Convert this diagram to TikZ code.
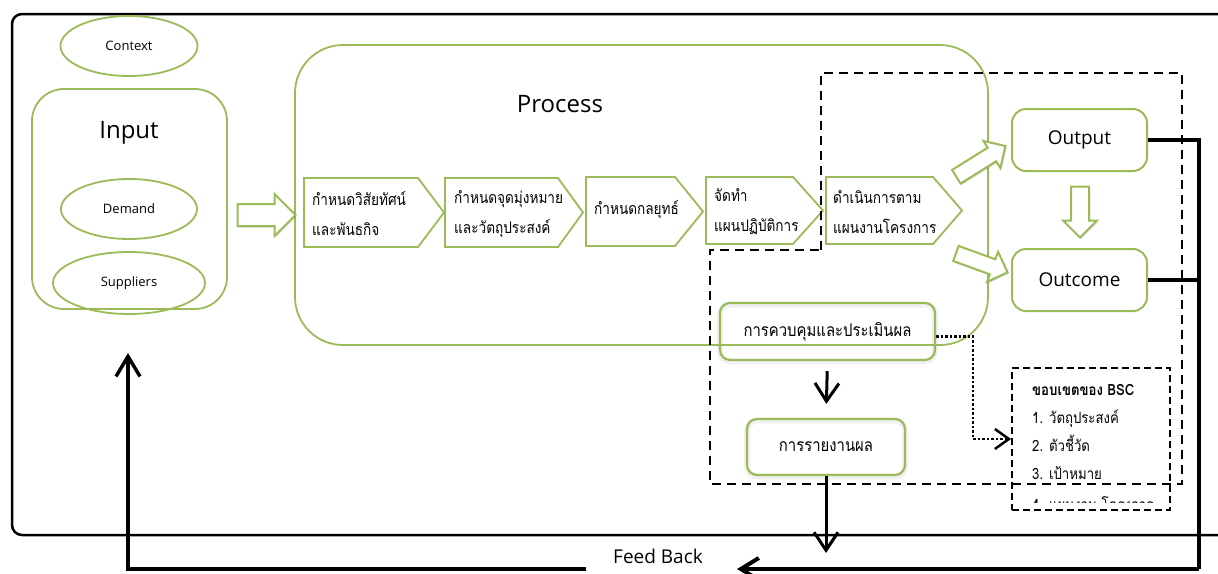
\documentclass[tikz,border=0pt]{standalone}
\usepackage{fontspec}
\setmainfont{Open Sans}
\newfontfamily\thai[Script=Thai,FakeStretch=0.85]{Loma}
\usetikzlibrary{arrows.meta,shapes.geometric,shapes.arrows,shadows}
\definecolor{leaf}{RGB}{155,187,89}

\newcommand\chevbox[5]{% left, shoulder, tip, top, bottom
  \draw[chev] (#1,#4) -- (#2,#4) -- (#3,{(#4+#5)/2}) -- (#2,#5) -- (#1,#5) -- cycle;}

\begin{document}
\begin{tikzpicture}[x=1pt,y=-1pt,
  grp/.style={draw=leaf, line width=1.8pt},
  oval/.style={ellipse, draw=leaf, line width=1.8pt, inner sep=0pt, font=\fontsize{13}{15}\selectfont},
  title/.style={font=\fontsize{24}{28}\selectfont},
  chev/.style={draw=leaf, line width=1.8pt, line join=miter},
  chevtext/.style={anchor=west, align=left, inner sep=0pt, font=\thai\fontsize{16}{30}\selectfont},
  resbox/.style={draw=leaf, line width=2pt, fill=white, rounded corners=14pt,
    minimum width=135pt, minimum height=62pt, font=\fontsize{19}{22}\selectfont},
  softbox/.style={draw=leaf, line width=2.2pt, rounded corners=10pt, inner sep=0pt,
    font=\thai\fontsize{17.5}{20}\selectfont,
    preaction={draw=black!45, line width=6pt, opacity=0.12, transform canvas={yshift=-1.5pt}}},
  hollow/.style={single arrow, draw=leaf, fill=white, line width=2pt, inner xsep=0pt,
    drop shadow={shadow xshift=1pt, shadow yshift=-1.5pt, opacity=0.15, fill=black}},
  zone/.style={draw=black, line width=2pt, dash pattern=on 9pt off 6pt},
  fb/.style={draw=black, line width=4pt},
  barb/.style={-{Straight Barb[length=18pt, width=24pt]}},
  dots/.style={draw=black, line width=2.5pt, dash pattern=on 2.5pt off 2pt},
  bsctext/.style={anchor=base west, inner sep=0pt, font=\thai\fontsize{15.5}{18}\selectfont}
]
\useasboundingbox (0,0) rectangle (1218,573);
\clip (0,0) rectangle (1218,573);

% outer frame
\draw[line width=2.5pt, rounded corners=10pt] (12,14) rectangle (1250,535);

% input side
\node[oval, minimum width=137pt, minimum height=60pt] (context) at (129,46) {Context};
\node[grp, rounded corners=32pt, minimum width=195pt, minimum height=220pt] (input) at (129.5,199) {};
\node[title] (inputtitle) at (129,133) {Input};
\node[oval, minimum width=136pt, minimum height=60pt] (demand) at (129,209) {Demand};
\node[oval, minimum width=152pt, minimum height=62pt] (suppliers) at (129,283) {Suppliers};

% process group
\node[grp, rounded corners=48pt, minimum width=693pt, minimum height=300pt] (process) at (641.5,195) {};
\node[title] (processtitle) at (560,104) {Process};

% block arrow into the process
\node[hollow, inner ysep=10pt, single arrow head extend=10pt, minimum height=58pt] (inarrow) at (261,215) {};

% chain of steps
\chevbox{304}{418}{444}{178}{247}
\chevbox{445}{558}{583}{178}{247}
\chevbox{586}{675}{703}{177}{246}
\chevbox{706}{793}{823}{177}{244}
\chevbox{826}{933}{962}{177}{244}
\node[chevtext] (s1) at (312,214) {กำหนดวิสัยทัศน์\\และพันธกิจ};
\node[chevtext] (s2) at (454,214) {กำหนดจุดมุ่งหมาย\\และวัตถุประสงค์};
\node[chevtext] (s3) at (594,210) {กำหนดกลยุทธ์};
\node[chevtext] (s4) at (714,212) {จัดทำ\\แผนปฏิบัติการ};
\node[chevtext] (s5) at (833,212) {ดำเนินการตาม\\แผนงานโครงการ};

% dashed scope of evaluation
\draw[zone] (821,250) -- (821,73) -- (1182,73) -- (1182,484) -- (710,484) -- (710,250) -- cycle;

% results
\node[resbox] (output) at (1079.5,140) {Output};
\node[resbox] (outcome) at (1079.5,280) {Outcome};
\node[hollow, inner ysep=7pt, single arrow head extend=8pt, minimum height=58pt, rotate=32] (toout) at (977.5,163.5) {};
\node[hollow, inner ysep=7pt, single arrow head extend=8pt, minimum height=55pt, rotate=-20] (toinc) at (978,261.5) {};
\node[hollow, inner ysep=8pt, single arrow head extend=8pt, minimum height=51pt, rotate=-90] (outdown) at (1080,207.5) {};

% control and reporting
\node[softbox, minimum width=215pt, minimum height=57pt] (control) at (827.5,331.5) {การควบคุมและประเมินผล};
\node[softbox, minimum width=158pt, minimum height=56pt] (report) at (826,447) {การรายงานผล};
\draw[line width=3pt, barb, shorten <=10pt, shorten >=14pt] (control.south) -- (report.north);
\coordinate (reportout) at (826,553);
\draw[line width=3pt, barb] (report.south) -- (reportout);

% BSC scope
\node[draw=black, line width=2pt, dash pattern=on 7pt off 4pt, minimum width=158pt, minimum height=142pt] (bsc) at (1091,439) {};
\node[bsctext] (bsch) at (1032,395) {\thai\bfseries ขอบเขตของ BSC};
\node[bsctext] (bsc1) at (1032,423) {1. วัตถุประสงค์};
\node[bsctext] (bsc2) at (1032,451) {2. ตัวชี้วัด};
\node[bsctext] (bsc3) at (1032,479) {3. เป้าหมาย};
\begin{scope}
  \clip (1014,486) rectangle (1168,502);
  \node[bsctext] (bsc4) at (1032,510) {4. แผนงาน โครงการ};
\end{scope}
\coordinate (dotbend) at (973,400);
\draw[dots, -{Straight Barb[length=14pt, width=20pt]}] ([yshift=-5pt]control.east) -| (dotbend) |- (bsc.west);

% feedback loop
\coordinate (fbright) at (1199,569);
\coordinate (fbtip) at (737,569);
\coordinate (fbstart) at (586,569);
\coordinate (fbcorner) at (128,569);
\coordinate (fbend) at (128,353);
\draw[fb] (output.east) -| (fbright);
\draw[fb] (outcome.east) -- (outcome.east -| fbright);
\draw[fb, -{Straight Barb[length=18pt, width=22pt]}] (fbright) -- (fbtip);
\node[font=\fontsize{19}{22}\selectfont] (fblabel) at (658,556) {Feed Back};
\draw[fb, line width=3.5pt, -{Straight Barb[length=20pt, width=24pt]}] (fbstart) -- (fbcorner) -- (fbend);
\end{tikzpicture}
\end{document}
